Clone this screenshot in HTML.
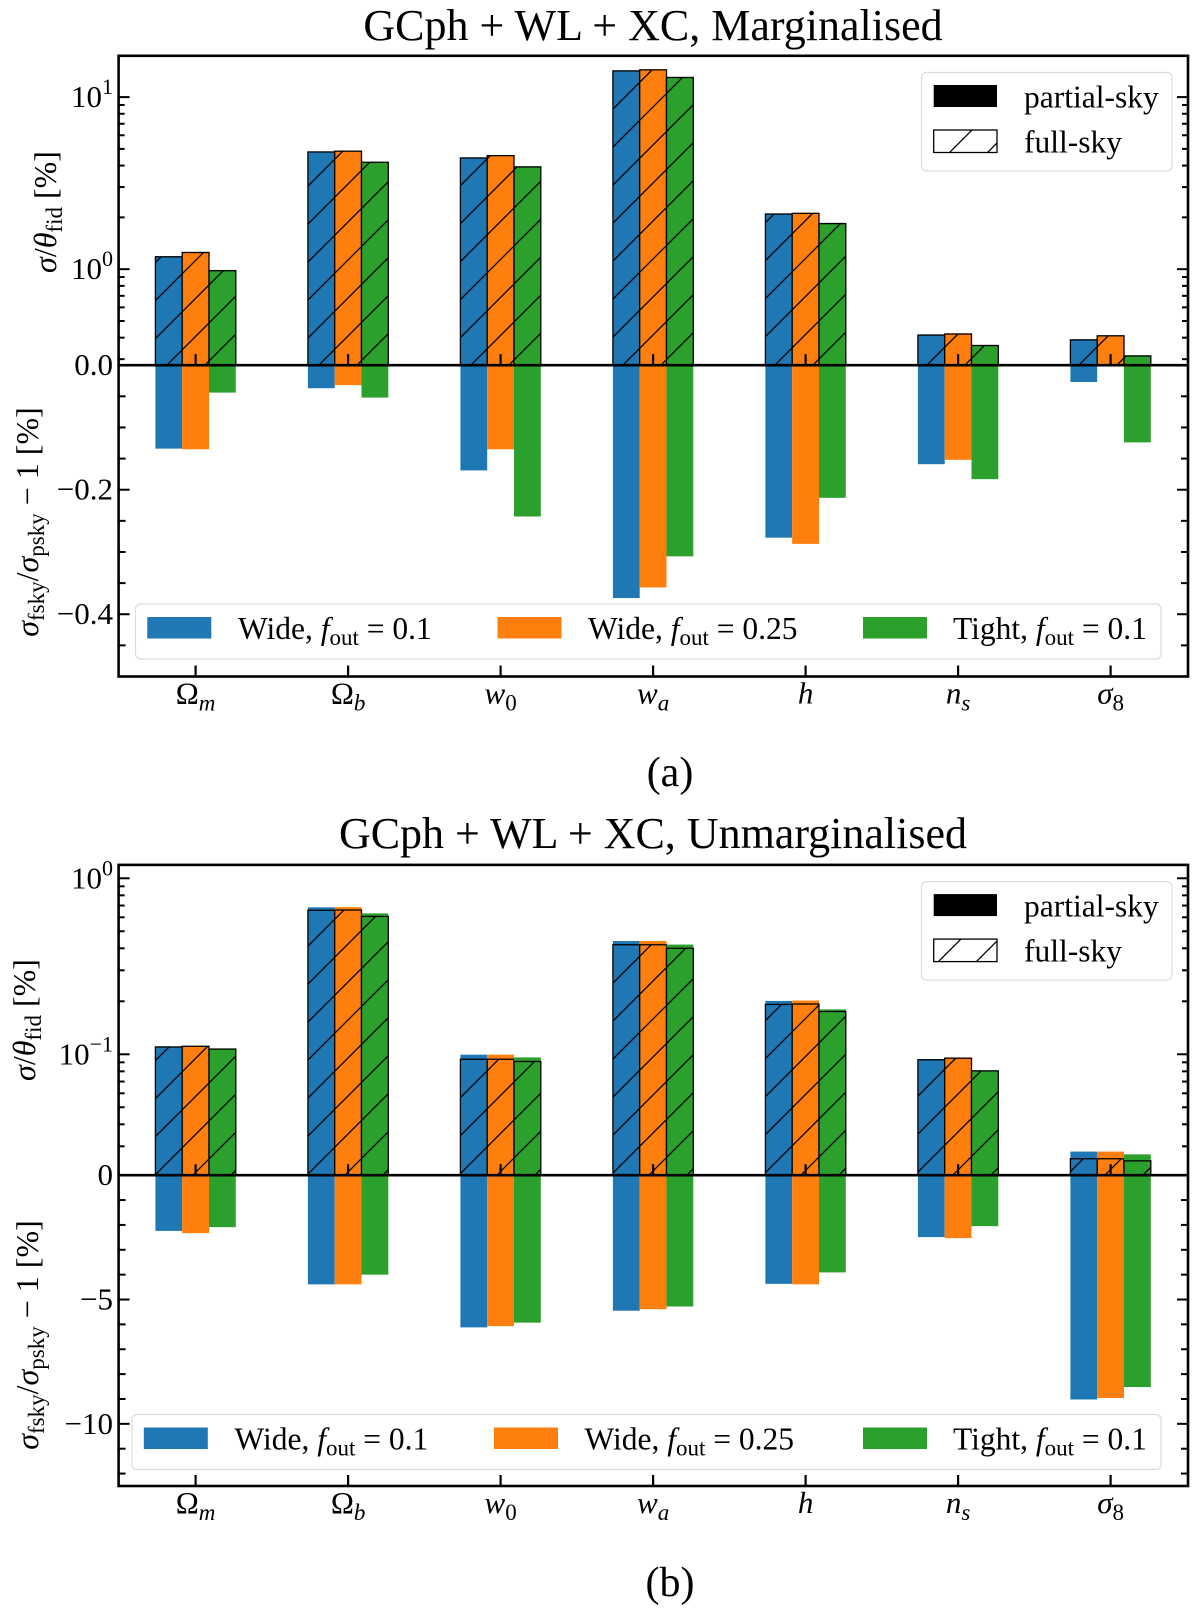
<!DOCTYPE html>
<html><head><meta charset="utf-8"><style>
html,body{margin:0;padding:0;background:#fff;}
svg{display:block;font-family:"Liberation Serif","DejaVu Serif",serif;}
</style></head><body>
<svg id="fig" width="1200" height="1620" viewBox="0 0 1200 1620" xmlns="http://www.w3.org/2000/svg">
<defs>
<pattern id="hatch" patternUnits="userSpaceOnUse" width="38" height="38">
<path d="M0,38 L38,0 M-19,19 L19,-19 M19,57 L57,19" stroke="#000" stroke-width="1.3"/>
</pattern>
</defs>
<g id="panelA"></g>
<g id="panelB"></g>
</svg>
<script>
const categories = ['Ω','Ω','w','w','h','n','σ'];
const categorySubs = ['m','b','0','a','','s','8'];
const seriesNames = ['Wide, f_out = 0.1','Wide, f_out = 0.25','Tight, f_out = 0.1'];
// Panel (a) marginalised
const aFullWide01 = [1.18, 4.80, 4.43, 14.2, 2.09, 0.414, 0.388];
const aFullWide025 = [1.25, 4.85, 4.57, 14.4, 2.11, 0.420, 0.410];
const aFullTight01 = [0.98, 4.18, 3.93, 13.0, 1.84, 0.360, 0.313];
const aPartWide01 = [1.19, 4.83, 4.46, 14.3, 2.11, 0.418, 0.392];
const aPartWide025 = [1.26, 4.88, 4.60, 14.5, 2.13, 0.424, 0.413];
const aPartTight01 = [0.99, 4.21, 3.96, 13.1, 1.86, 0.363, 0.316];
const aDiffWide01 = [-0.134, -0.037, -0.169, -0.374, -0.277, -0.159, -0.027];
const aDiffWide025 = [-0.135, -0.032, -0.135, -0.357, -0.287, -0.152, -0.001];
const aDiffTight01 = [-0.044, -0.052, -0.243, -0.307, -0.213, -0.183, -0.124];
// Panel (b) unmarginalised
const bFullWide01 = [0.110, 0.658, 0.0937, 0.419, 0.192, 0.093, 0.0255];
const bFullWide025 = [0.111, 0.660, 0.0937, 0.419, 0.193, 0.095, 0.0255];
const bFullTight01 = [0.107, 0.607, 0.091, 0.400, 0.175, 0.0805, 0.0248];
const bPartWide01 = [0.111, 0.684, 0.0995, 0.440, 0.201, 0.094, 0.028];
const bPartWide025 = [0.112, 0.686, 0.0995, 0.440, 0.202, 0.096, 0.028];
const bPartTight01 = [0.108, 0.632, 0.096, 0.420, 0.180, 0.081, 0.027];
const bDiffWide01 = [-2.24, -4.39, -6.12, -5.45, -4.37, -2.49, -9.02];
const bDiffWide025 = [-2.33, -4.39, -6.07, -5.39, -4.39, -2.53, -8.96];
const bDiffTight01 = [-2.09, -4.00, -5.93, -5.28, -3.91, -2.05, -8.52];
// tick labels
const aLogTicks = [0, 1];
const aLinTicks = [0, -0.2, -0.4];
const aLinTickLabels = ['0.0', '−0.2', '−0.4'];
const bLogTicks = [-1, 0];
const bLinTicks = [0, -5, -10];
const bLinTickLabels = ['0', '−5', '−10'];

const NS = 'http://www.w3.org/2000/svg';
const colors = ['#1f77b4', '#ff7f0e', '#2ca02c'];
function mk(tag, attrs, parent) {
  const e = document.createElementNS(NS, tag);
  for (const k in attrs) e.setAttribute(k, attrs[k]);
  if (parent) parent.appendChild(e);
  return e;
}
const X0 = 118.6, X1 = 1188, CX0 = 195.6, CDX = 152.5, BW = 26.8;
function xCenter(i) { return CX0 + CDX * i; }

function drawPanel(g, cfg) {
  const logY = v => cfg.yZero - (Math.log10(v) - cfg.logMin) / (cfg.logMax - cfg.logMin) * (cfg.yZero - cfg.yTop);
  const linY = v => cfg.yZero + (v / cfg.linMin) * (cfg.yBot - cfg.yZero);
  const t = mk('text', {x: 653, y: cfg.titleY, 'font-size': 44, 'text-anchor': 'middle'}, g);
  t.textContent = cfg.title;
  
  
  for (let s = 0; s < 3; s++) {
    for (let i = 0; i < categories.length; i++) {
      const x = xCenter(i) + (s - 1) * BW - BW / 2;
      const pv = cfg.part[s][i], fv = cfg.full[s][i], dv = cfg.diff[s][i];
      const yp = logY(pv);
      const rp = mk('rect', {x: x, y: yp, width: BW, height: cfg.yZero - yp, fill: colors[s]}, g);
      
      
      const yf = logY(fv);
      const rf = mk('rect', {x: x, y: yf, width: BW, height: cfg.yZero - yf, fill: colors[s]}, g);
      
      
      const rh = mk('rect', {x: x, y: yf, width: BW, height: cfg.yZero - yf, fill: 'url(#hatch)', stroke: '#000', 'stroke-width': 1.3}, g);
      
      
      const yd = linY(dv);
      const rd = mk('rect', {x: x, y: cfg.yZero, width: BW, height: yd - cfg.yZero, fill: colors[s]}, g);
      
      
    }
  }
  for (let k = Math.floor(cfg.logMin); k <= Math.ceil(cfg.logMax); k++) {
    for (let m = 1; m <= 9; m++) {
      const lv = k + Math.log10(m);
      if (lv < cfg.logMin || lv > cfg.logMax) continue;
      const y = logY(Math.pow(10, lv));
      const len = m === 1 ? 11 : 6;
      mk('line', {x1: X0, x2: X0 + len, y1: y, y2: y, stroke: '#000', 'stroke-width': 2}, g);
      mk('line', {x1: X1, x2: X1 - len, y1: y, y2: y, stroke: '#000', 'stroke-width': 2}, g);
    }
  }
  cfg.logTicks.forEach(p => {
    const y = logY(Math.pow(10, p));
    const tx = mk('text', {x: cfg.logLabelX, y: y + 10, 'font-size': 31, 'text-anchor': 'end'}, g);
    
    
    tx.appendChild(document.createTextNode('10'));
    const sp = mk('tspan', {dy: -13, 'font-size': 22}, tx);
    sp.textContent = p < 0 ? '−' + (-p) : String(p);
  });
  for (let v = 0; v >= cfg.linMin - 1e-9; v -= cfg.linMinor) {
    const y = linY(v);
    if (y > cfg.yBot - 2) continue;
    const major = cfg.linTicks.some(tv => Math.abs(tv - v) < 1e-6);
    const len = major ? 11 : 7;
    mk('line', {x1: X0, x2: X0 + len, y1: y, y2: y, stroke: '#000', 'stroke-width': 2}, g);
    mk('line', {x1: X1, x2: X1 - len, y1: y, y2: y, stroke: '#000', 'stroke-width': 2}, g);
  }
  cfg.linTicks.forEach((v, j) => {
    const tx = mk('text', {x: 113, y: linY(v) + 10, 'font-size': 31, 'text-anchor': 'end'}, g);
    tx.textContent = cfg.linTickLabels[j];
    
    
  });
  const zl = mk('line', {x1: X0, x2: X1, y1: cfg.yZero, y2: cfg.yZero, stroke: '#000', 'stroke-width': 2.6}, g);
  
  
  for (let i = 0; i < categories.length; i++) {
    const x = xCenter(i);
    mk('line', {x1: x, x2: x, y1: cfg.yZero, y2: cfg.yZero - 11, stroke: '#000', 'stroke-width': 2.2}, g);
    mk('line', {x1: x, x2: x, y1: cfg.yBot, y2: cfg.yBot - 11, stroke: '#000', 'stroke-width': 2.2}, g);
    const tx = mk('text', {x: x, y: cfg.yBot + 27, 'font-size': 31, 'text-anchor': 'middle'}, g);
    
    
    const main = mk('tspan', {'font-style': categories[i] === 'Ω' ? 'normal' : 'italic'}, tx);
    main.textContent = categories[i];
    if (categorySubs[i]) {
      const sb = mk('tspan', {dy: 7, 'font-size': 23, 'font-style': /[0-9]/.test(categorySubs[i]) ? 'normal' : 'italic'}, tx);
      sb.textContent = categorySubs[i];
    }
  }
  const sp = mk('rect', {x: X0, y: cfg.yTop, width: X1 - X0, height: cfg.yBot - cfg.yTop, fill: 'none', stroke: '#000', 'stroke-width': 2.6}, g);
  
  
  const yl1 = mk('text', {transform: `translate(${cfg.ylab1X},${cfg.ylab1Y}) rotate(-90)`, 'font-size': 32, 'text-anchor': 'middle'}, g);
  
  
  yl1.innerHTML = '<tspan font-style="italic">σ</tspan>/<tspan font-style="italic">θ</tspan><tspan font-size="23" dy="6">fid</tspan><tspan dy="-6"> [%]</tspan>';
  const yl2 = mk('text', {transform: `translate(${cfg.ylab2X},${cfg.ylab2Y}) rotate(-90)`, 'font-size': 32, 'text-anchor': 'middle'}, g);
  
  
  yl2.innerHTML = '<tspan font-style="italic">σ</tspan><tspan font-size="23" dy="6">fsky</tspan><tspan dy="-6">/</tspan><tspan font-style="italic">σ</tspan><tspan font-size="23" dy="6">psky</tspan><tspan dy="-6"> − 1 [%]</tspan>';
  const lg = mk('g', {}, g);
  
  
  const ly = cfg.yTop + 16.7;
  mk('rect', {x: 921.5, y: ly, width: 250.5, height: 98.5, rx: 5, fill: '#fff', 'fill-opacity': 0.8, stroke: '#dcdcdc', 'stroke-width': 1.2}, lg);
  mk('rect', {x: 933.7, y: ly + 12.5, width: 63.3, height: 22, fill: '#000'}, lg);
  mk('rect', {x: 933.7, y: ly + 57.5, width: 63.3, height: 22.5, fill: 'url(#hatch)', stroke: '#000', 'stroke-width': 1.3}, lg);
  const lt1 = mk('text', {x: 1024, y: ly + 35, 'font-size': 31.5}, lg); lt1.textContent = 'partial-sky';
  const lt2 = mk('text', {x: 1024, y: ly + 80, 'font-size': 31.5}, lg); lt2.textContent = 'full-sky';
  const lg2 = mk('g', {}, g);
  
  
  mk('rect', {x: cfg.legX, y: cfg.legY, width: 1161 - cfg.legX, height: 55, rx: 5, fill: '#fff', 'fill-opacity': 0.8, stroke: '#dcdcdc', 'stroke-width': 1.2}, lg2);
  const px = [cfg.legX + 11.8, 497.5 - (135.5 - cfg.legX), 863];
  const txs = [cfg.legX + 102.5, 497.5 - (135.5 - cfg.legX) + 90.5, 953];
  const words = ['Wide, ', 'Wide, ', 'Tight, '];
  const vals = ['0.1', '0.25', '0.1'];
  for (let s = 0; s < 3; s++) {
    mk('rect', {x: px[s], y: cfg.legY + 13, width: 64, height: 21.5, fill: colors[s]}, lg2);
    const tx = mk('text', {x: txs[s], y: cfg.legY + 35, 'font-size': 31.5}, lg2);
    tx.innerHTML = words[s] + '<tspan font-style="italic">f</tspan><tspan font-size="23" dy="6">out</tspan><tspan dy="-6"> = ' + vals[s] + '</tspan>';
  }
  const cap = mk('text', {x: 670, y: cfg.capY, 'font-size': 42, 'text-anchor': 'middle'}, g);
  cap.textContent = cfg.caption;
  
  
}

drawPanel(document.getElementById('panelA'), {
  title: 'GCph + WL + XC, Marginalised', titleY: 40, caption: '(a)', capY: 786,
  yTop: 55.8, yZero: 365.2, yBot: 676.5, logMin: -0.558, logMax: 1.24, linMin: -0.5, linMinor: 0.05,
  logTicks: aLogTicks, linTicks: aLinTicks, linTickLabels: aLinTickLabels, logLabelX: 113,
  part: [aPartWide01, aPartWide025, aPartTight01], full: [aFullWide01, aFullWide025, aFullTight01],
  diff: [aDiffWide01, aDiffWide025, aDiffTight01],
  ylab1X: 56, ylab1Y: 212, ylab2X: 38, ylab2Y: 522, legX: 135.5, legY: 604
});
drawPanel(document.getElementById('panelB'), {
  title: 'GCph + WL + XC, Unmarginalised', titleY: 848, caption: '(b)', capY: 1596,
  yTop: 864.9, yZero: 1175.2, yBot: 1486, logMin: -1.687, logMax: 0.076, linMin: -12.5, linMinor: 1,
  logTicks: bLogTicks, linTicks: bLinTicks, linTickLabels: bLinTickLabels, logLabelX: 113,
  part: [bPartWide01, bPartWide025, bPartTight01], full: [bFullWide01, bFullWide025, bFullTight01],
  diff: [bDiffWide01, bDiffWide025, bDiffTight01],
  ylab1X: 35, ylab1Y: 1020, ylab2X: 38, ylab2Y: 1335, legX: 132, legY: 1414.5
});
</script>
</body></html>
